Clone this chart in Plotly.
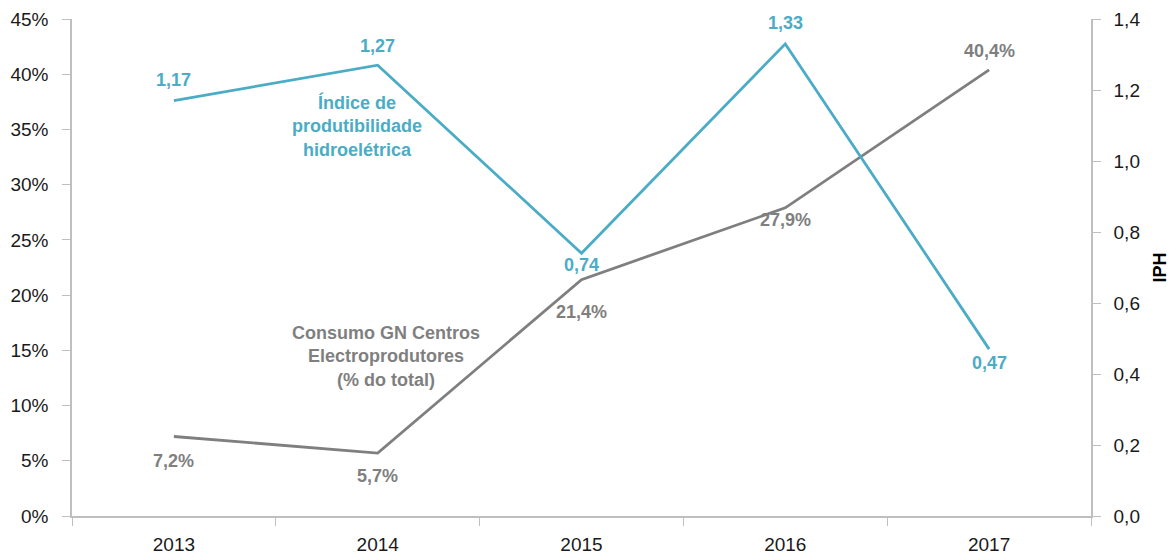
import plotly.graph_objects as go

years = ["2013", "2014", "2015", "2016", "2017"]
iph = [1.17, 1.27, 0.74, 1.33, 0.47]
gn_share = [7.2, 5.7, 21.4, 27.9, 40.4]

iph_label_shift = [21, 19, -12, 21, -14]
gn_label_shift = [-25, -23, -32, -12, 19]

BLUE = "#4BACC6"
GRAY = "#7F7F7F"
FONT = "Liberation Sans"

fig = go.Figure()
fig.add_trace(go.Scatter(x=years, y=gn_share, mode="lines", line=dict(color=GRAY, width=2.8),
                         yaxis="y", hoverinfo="skip"))
fig.add_trace(go.Scatter(x=years, y=iph, mode="lines", line=dict(color=BLUE, width=2.8),
                         yaxis="y2", hoverinfo="skip"))

annotations = []
for i, (v, s) in enumerate(zip(iph, iph_label_shift)):
    annotations.append(dict(x=i, y=v, xref="x", yref="y2", text=f"{v:.2f}".replace(".", ","),
                            showarrow=False, yshift=s,
                            font=dict(family=FONT, size=18, color=BLUE, weight="bold")))
for i, (v, s) in enumerate(zip(gn_share, gn_label_shift)):
    annotations.append(dict(x=i, y=v, xref="x", yref="y", text=f"{v:.1f}%".replace(".", ","),
                            showarrow=False, yshift=s,
                            font=dict(family=FONT, size=18, color=GRAY, weight="bold")))

L, R, T, B = 72, 85, 19, 44
W, H = 1176, 560
pw, ph = W - L - R, H - T - B


def px_to_paper(px, py):
    return (px - L) / pw, 1 - (py - T) / ph


ax, ay = px_to_paper(357, 126)
annotations.append(dict(x=ax, y=ay, xref="paper", yref="paper", xanchor="center", yanchor="middle",
                        text="Índice de<br>produtibilidade<br>hidroelétrica",
                        showarrow=False, font=dict(family=FONT, size=18, color=BLUE, weight="bold")))
ax, ay = px_to_paper(386, 356)
annotations.append(dict(x=ax, y=ay, xref="paper", yref="paper", xanchor="center", yanchor="middle",
                        text="Consumo GN Centros<br>Electroprodutores<br>(% do total)",
                        showarrow=False, font=dict(family=FONT, size=18, color=GRAY, weight="bold")))

fig.update_layout(
    width=W, height=H,
    margin=dict(l=L, r=R, t=T, b=B, autoexpand=False),
    plot_bgcolor="white", paper_bgcolor="white",
    showlegend=False,
    separators=",.",
    font=dict(family=FONT, size=19, color="#1a1a1a"),
    annotations=annotations,
    xaxis=dict(type="category", range=[-0.5, 4.5], autorange=False, automargin=False,
               showline=True, linecolor="#BFBFBF", linewidth=1.5,
               ticks="outside", tickson="boundaries", ticklen=8, tickcolor="#BFBFBF",
               showgrid=False, zeroline=False, tickfont=dict(size=19), tickangle=0,
               ticklabelstandoff=10),
    yaxis=dict(range=[0, 45], dtick=5, ticksuffix="%", showline=True, linecolor="#BFBFBF",
               linewidth=1.5, ticks="outside", ticklen=8, tickcolor="#BFBFBF", automargin=False,
               showgrid=False, zeroline=False, tickfont=dict(size=19), ticklabelstandoff=10),
    yaxis2=dict(range=[0, 1.4], dtick=0.2, tickformat=".1f", overlaying="y", side="right",
                showline=True, linecolor="#BFBFBF", linewidth=1.5, ticks="outside", ticklen=8,
                tickcolor="#BFBFBF", showgrid=False, zeroline=False, tickfont=dict(size=19),
                ticklabelstandoff=9, automargin=False,
                title=dict(text="<b>IPH</b>", font=dict(size=18, color="#000"), standoff=14)),
)

fig.write_html("out.html")
